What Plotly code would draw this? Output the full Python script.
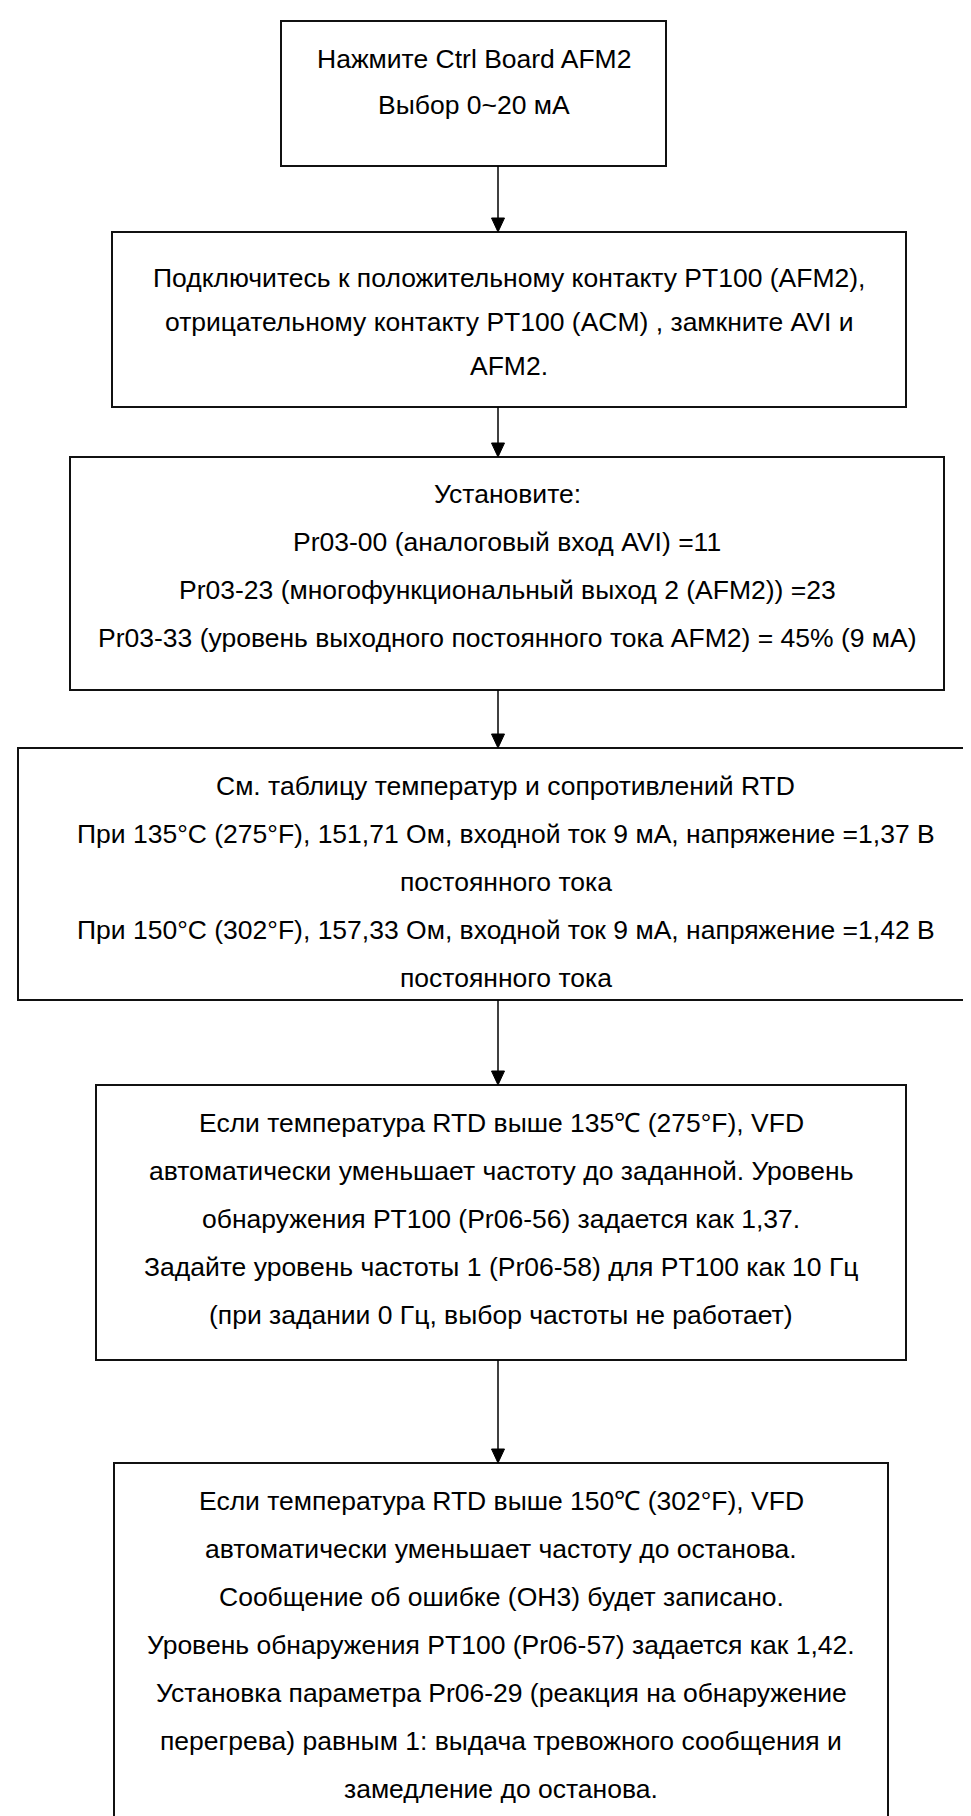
import plotly.graph_objects as go

# box geometry in page pixels (y grows downwards)
box_left = [273, 104, 62, 10, 88, 106]
box_right = [658, 898, 936, 985, 898, 880]
box_top = [13, 224, 449, 740, 1077, 1455]
box_bottom = [158, 399, 682, 992, 1352, 1830]
first_line = [51, 270, 486, 778, 1115, 1493]
line_step = [46, 44, 48, 48, 48, 48]

box_text = [
    ["Нажмите Ctrl Board AFM2",
     "Выбор 0~20 мА"],
    ["Подключитесь к положительному контакту PT100 (AFM2),",
     "отрицательному контакту PT100 (ACM) , замкните AVI и",
     "AFM2."],
    ["Установите:",
     "Pr03-00 (аналоговый вход AVI) =11",
     "Pr03-23 (многофункциональный выход 2 (AFM2)) =23",
     "Pr03-33 (уровень выходного постоянного тока AFM2) = 45% (9 мА)"],
    ["См. таблицу температур и сопротивлений RTD",
     "При 135°C (275°F), 151,71 Ом, входной ток 9 мА, напряжение =1,37 В",
     "постоянного тока",
     "При 150°C (302°F), 157,33 Ом, входной ток 9 мА, напряжение =1,42 В",
     "постоянного тока"],
    ["Если температура RTD выше 135℃ (275°F), VFD",
     "автоматически уменьшает частоту до заданной. Уровень",
     "обнаружения PT100 (Pr06-56) задается как 1,37.",
     "Задайте уровень частоты 1 (Pr06-58) для PT100 как 10 Гц",
     "(при задании 0 Гц, выбор частоты не работает)"],
    ["Если температура RTD выше 150℃ (302°F), VFD",
     "автоматически уменьшает частоту до останова.",
     "Сообщение об ошибке (OH3) будет записано.",
     "Уровень обнаружения PT100 (Pr06-57) задается как 1,42.",
     "Установка параметра Pr06-29 (реакция на обнаружение",
     "перегрева) равным 1: выдача тревожного сообщения и",
     "замедление до останова."],
]

arrow_x = 490
W, H = 971, 1816

fig = go.Figure()

for i in range(len(box_text)):
    fig.add_shape(type="rect", x0=box_left[i], x1=box_right[i],
                  y0=box_top[i], y1=box_bottom[i],
                  line=dict(color="#111111", width=2), fillcolor="white", layer="below")
    cx = (box_left[i] + box_right[i]) / 2
    for j, line in enumerate(box_text[i]):
        fig.add_annotation(x=cx, y=first_line[i] + j * line_step[i], text=line,
                           showarrow=False, xanchor="center", yanchor="middle",
                           font=dict(family="Liberation Sans, Arial", size=26.5, color="black"))

# connectors with filled arrow heads
head_len, head_w = 14, 6.5
for i in range(len(box_text) - 1):
    y_start = box_bottom[i]
    y_end = box_top[i + 1]
    fig.add_shape(type="line", x0=arrow_x, x1=arrow_x, y0=y_start, y1=y_end - head_len,
                  line=dict(color="black", width=1.5))
    fig.add_shape(type="path",
                  path=f"M {arrow_x - head_w} {y_end - head_len} L {arrow_x + head_w} {y_end - head_len} L {arrow_x} {y_end} Z",
                  fillcolor="black", line=dict(color="black", width=1))

fig.update_layout(
    width=W, height=H,
    margin=dict(l=0, r=0, t=0, b=0),
    paper_bgcolor="white", plot_bgcolor="white",
    showlegend=False,
    xaxis=dict(range=[0, W], visible=False, fixedrange=True),
    yaxis=dict(range=[H, 0], visible=False, fixedrange=True),
)

fig.write_html("out.html")
